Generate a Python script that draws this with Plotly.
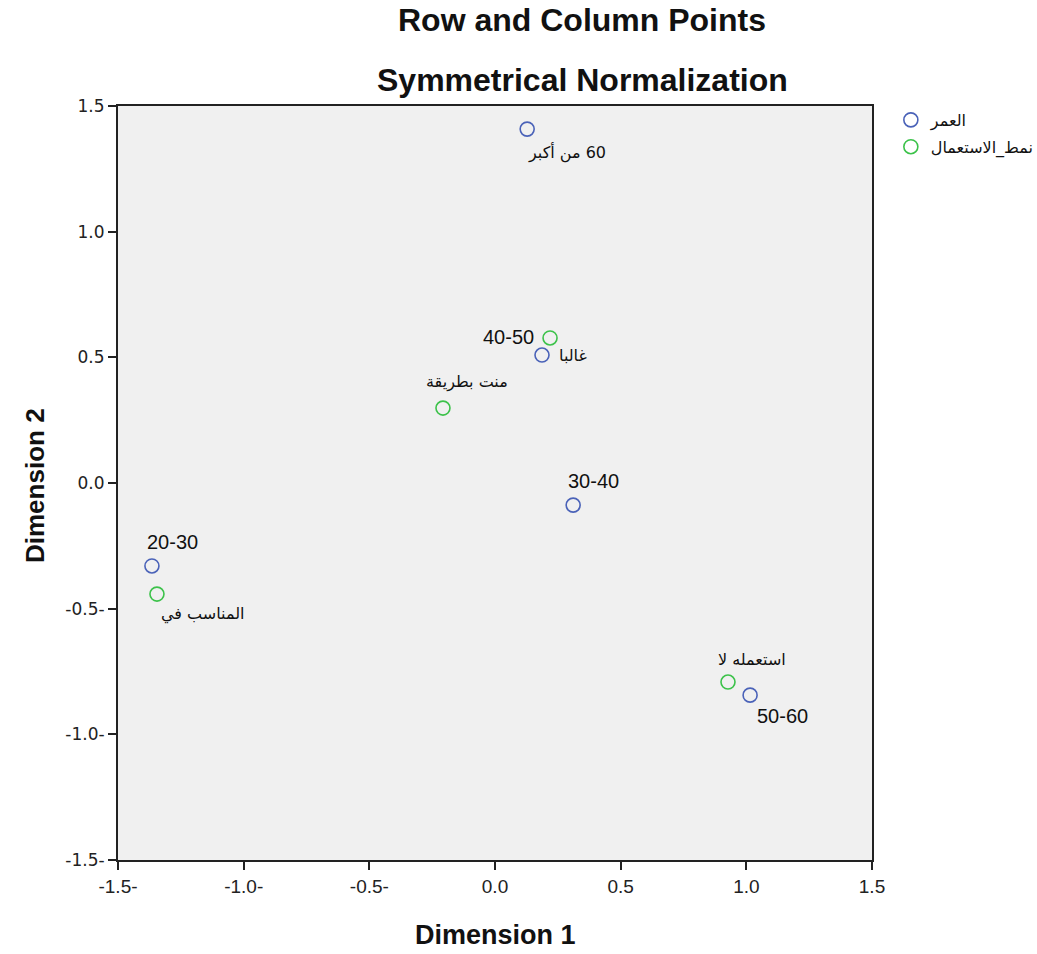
import plotly.graph_objects as go

LRM = "\u200e"

# Row points: العمر (age groups)
age_labels = ["20-30", "30-40", "40-50", "50-60", LRM + "أكبر" + LRM + " من" + LRM + " 60"]
age_dim1 = [-1.365, 0.311, 0.187, 1.015, 0.128]
age_dim2 = [-0.330, -0.088, 0.509, -0.844, 1.408]

# Column points: نمط_الاستعمال (usage pattern)
use_labels = ["غالبا", "بطريقة" + LRM + " منت", "في" + LRM + " المناسب", "لا" + LRM + " استعمله"]
use_dim1 = [0.219, -0.207, -1.345, 0.927]
use_dim2 = [0.577, 0.298, -0.442, -0.792]

tick_vals = [-1.5, -1.0, -0.5, 0.0, 0.5, 1.0, 1.5]
tick_text = ["-1.5-", "-1.0-", "-0.5-", "0.0", "0.5", "1.0", "1.5"]

BLUE = "#4a62b8"
GREEN = "#3cc24a"

fig = go.Figure()
fig.add_trace(go.Scatter(
    x=age_dim1, y=age_dim2, mode="markers", name="العمر", legendgroup="a",
    marker=dict(symbol="circle-open", size=14, color=BLUE, line=dict(width=1.6, color=BLUE)),
))
fig.add_trace(go.Scatter(
    x=use_dim1, y=use_dim2, mode="markers", name="نمط_الاستعمال", legendgroup="b",
    marker=dict(symbol="circle-open", size=14, color=GREEN, line=dict(width=1.6, color=GREEN)),
))

# label placement (anchor, xshift, yshift) per point
age_pos = [("left", -7, 24), ("left", -7, 24), ("right", -6, 18), ("left", 5, -21), ("left", -1, -23)]
use_pos = [("left", 7, -18), ("center", 24, 26), ("left", 2, -20), ("center", 24, 23)]

annotations = []
for lab, x, y, (anc, xs, ys) in zip(age_labels, age_dim1, age_dim2, age_pos):
    arabic = any("\u0600" <= c <= "\u06ff" for c in lab)
    annotations.append(dict(
        x=x, y=y, xref="x", yref="y", text=lab, showarrow=False,
        xanchor=anc, yanchor="middle", xshift=xs, yshift=ys,
        font=dict(family="DejaVu Sans" if arabic else "Liberation Sans, Arial",
                  size=16 if arabic else 20, color="#111"),
    ))
for lab, x, y, (anc, xs, ys) in zip(use_labels, use_dim1, use_dim2, use_pos):
    annotations.append(dict(
        x=x, y=y, xref="x", yref="y", text=lab, showarrow=False,
        xanchor=anc, yanchor="middle", xshift=xs, yshift=ys,
        font=dict(family="DejaVu Sans", size=16, color="#111"),
    ))

title_x = (582 - 118) / 754
annotations += [
    dict(x=title_x, y=1, xref="paper", yref="paper", yshift=86, showarrow=False,
         text="<b>Row and Column Points</b>", xanchor="center", yanchor="middle",
         font=dict(family="Liberation Sans, Arial", size=32, color="#111")),
    dict(x=title_x, y=1, xref="paper", yref="paper", yshift=26, showarrow=False,
         text="<b>Symmetrical Normalization</b>", xanchor="center", yanchor="middle",
         font=dict(family="Liberation Sans, Arial", size=32, color="#111")),
    dict(x=0.5, y=0, xref="paper", yref="paper", yshift=-75, showarrow=False,
         text="<b>Dimension 1</b>", xanchor="center", yanchor="middle",
         font=dict(family="Liberation Sans, Arial", size=27, color="#111")),
    dict(x=0, y=0.5, xref="paper", yref="paper", xshift=-83, yshift=-3, showarrow=False,
         text="<b>Dimension 2</b>", xanchor="center", yanchor="middle", textangle=-90,
         font=dict(family="Liberation Sans Narrow, Arial Narrow, Liberation Sans", size=26, color="#111")),
]

axis_common = dict(
    range=[-1.5, 1.5], tickvals=tick_vals, ticktext=tick_text,
    showgrid=False, zeroline=False, showline=True, mirror=True,
    linecolor="#222", linewidth=2, ticks="outside", ticklen=8,
    tickcolor="#222", tickwidth=2,
)

fig.update_layout(
    width=1037, height=954,
    margin=dict(l=118, r=165, t=106, b=94, autoexpand=False),
    paper_bgcolor="white", plot_bgcolor="#f0f0f0",
    xaxis=dict(**axis_common, tickfont=dict(family="Liberation Sans, Arial", size=19, color="#222")),
    yaxis=dict(**axis_common, tickfont=dict(family="DejaVu Sans", size=17, color="#222")),
    showlegend=True,
    legend=dict(x=1.025, y=1.004, xanchor="left", yanchor="top", bgcolor="rgba(0,0,0,0)",
                font=dict(family="DejaVu Sans", size=16, color="#111"), tracegroupgap=3,
                itemwidth=30),
    annotations=annotations,
)

fig.write_html("out.html", config={"displayModeBar": False},
               post_script="document.body.style.margin='0';")
